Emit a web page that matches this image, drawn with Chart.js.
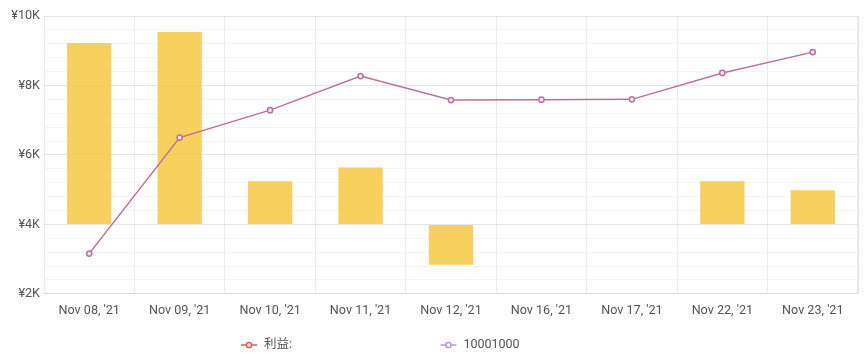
<!DOCTYPE html>
<html>
<head>
<meta charset="utf-8">
<script src="https://cdn.jsdelivr.net/npm/chart.js@4.4.1/dist/chart.umd.min.js"></script>
<style>
  html, body { margin: 0; padding: 0; background: #fff; }
  #wrap { width: 867px; height: 363px; }
</style>
</head>
<body>
<div id="wrap"><canvas id="myChart"></canvas></div>
<script>
const labels = ["Nov 08, '21", "Nov 09, '21", "Nov 10, '21", "Nov 11, '21", "Nov 12, '21", "Nov 16, '21", "Nov 17, '21", "Nov 22, '21", "Nov 23, '21"];
const profit = [9220, 9540, 5240, 5640, 2840, 4000, 4000, 5240, 4980];
const series2 = [3160, 6500, 7290, 8270, 7580, 7590, 7600, 8360, 8960];
const barBase = 4000;
const legendNames = ['利益:', '10001000'];
const legendColors = ['#e0585c', '#b99bc8'];

const ctx = document.getElementById('myChart').getContext('2d');

// legend drawn by hand: line with a small ring in the middle
const legendPlugin = {
    id: 'lineLegend',
    afterDraw(chart) {
        const c = chart.ctx;
        const y = chart.height - 18;
        const starts = [chart.width * 0.278, chart.width * 0.508];
        c.save();
        c.font = '12.5px Roboto, "Noto Sans CJK SC", sans-serif';
        c.textBaseline = 'middle';
        legendNames.forEach((name, i) => {
            const x = starts[i];
            c.strokeStyle = legendColors[i];
            c.lineWidth = 1.5;
            c.beginPath();
            c.moveTo(x, y);
            c.lineTo(x + 16, y);
            c.stroke();
            c.beginPath();
            c.arc(x + 8, y, 2.6, 0, Math.PI * 2);
            c.fillStyle = '#fff';
            c.fill();
            c.stroke();
            c.fillStyle = '#555';
            c.fillText(name, x + 23, y);
        });
        c.restore();
    }
};

new Chart(ctx, {
    data: {
        labels: labels,
        datasets: [{
            type: 'line',
            label: legendNames[1],
            data: series2,
            borderColor: '#b8739f',
            borderWidth: 1.5,
            pointRadius: 2.6,
            pointBorderWidth: 1.5,
            pointBackgroundColor: '#f3e3ee',
            tension: 0,
            order: 1
        }, {
            type: 'bar',
            label: legendNames[0],
            data: profit,
            base: barBase,
            backgroundColor: 'rgba(247, 200, 66, 0.85)',
            borderWidth: 0,
            categoryPercentage: 1,
            barPercentage: 0.49,
            order: 2
        }]
    },
    options: {
        responsive: true,
        maintainAspectRatio: false,
        animation: false,
        layout: { padding: { top: 16, right: 9, bottom: 36, left: 0 } },
        plugins: {
            legend: { display: false },
            tooltip: { enabled: false }
        },
        scales: {
            x: {
                grid: { color: '#ececec', drawTicks: false, offset: true },
                border: { color: '#dcd8e4' },
                ticks: {
                    color: '#555',
                    padding: 9,
                    maxRotation: 0,
                    font: { family: 'Roboto', size: 12.6 }
                }
            },
            y: {
                min: 2000,
                max: 10000,
                afterFit: function (scale) { scale.width = 44; },
                grid: {
                    drawTicks: false,
                    color: function (c) { return c.tick && c.tick.value % 2000 === 0 ? '#e6e6e6' : '#f5f5f5'; }
                },
                border: { display: false },
                ticks: {
                    stepSize: 400,
                    autoSkip: false,
                    padding: 4,
                    color: '#555',
                    font: { family: 'Roboto', size: 12.6 },
                    callback: function (v) { return v % 2000 === 0 ? '¥' + (v / 1000) + 'K' : ''; }
                }
            },
            yr: {
                position: 'right',
                min: 2000,
                max: 10000,
                afterFit: function (scale) { scale.width = 0; },
                grid: { display: false },
                ticks: { display: false },
                border: { color: '#e6e6e6' }
            }
        }
    },
    plugins: [legendPlugin]
});
</script>
</body>
</html>
